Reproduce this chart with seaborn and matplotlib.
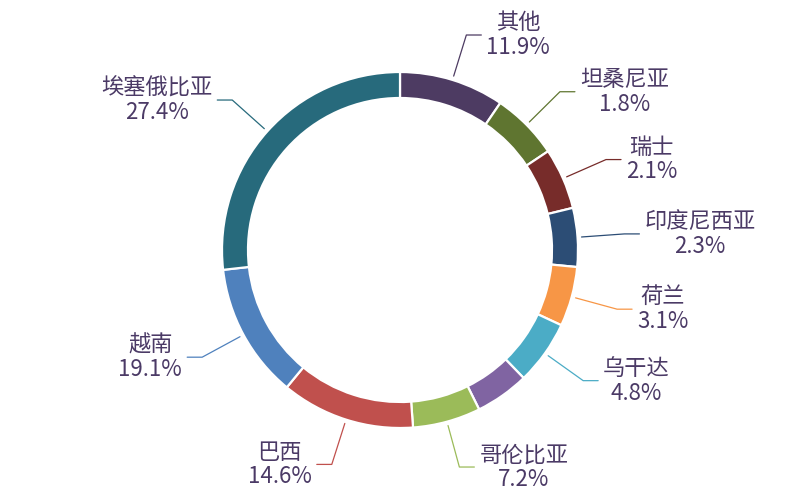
import numpy as np
import matplotlib
matplotlib.use("Agg")
import matplotlib.pyplot as plt
import seaborn as sns

# slices, clockwise from 12 o'clock
countries = ["其他", "坦桑尼亚", "瑞士", "印度尼西亚", "荷兰", "乌干达", "",
             "哥伦比亚", "巴西", "越南", "埃塞俄比亚"]
# angular size of each slice (degrees)
slice_sizes = [34.3, 22.0, 20.0, 19.2, 19.5, 21.0, 17.6, 22.2, 43.7, 44.1, 96.4]
# percentages printed on the labels
pct_labels = [11.9, 1.8, 2.1, 2.3, 3.1, 4.8, None, 7.2, 14.6, 19.1, 27.4]
colors = ["#4D3B62", "#5F7530", "#772C2A", "#2C4D75", "#F79646", "#4BACC6",
          "#8064A2", "#9BBB59", "#C0504D", "#4F81BD", "#276A7C"]

sns.set_theme(style="white")
plt.rcParams["font.family"] = ["Noto Sans CJK SC", "DejaVu Sans"]

fig = plt.figure(figsize=(8, 5), dpi=100)
ax = fig.add_axes([0, 0, 1, 1])
ax.set_aspect("equal")
ax.axis("off")

cx, cy, R, ring = 400, 250, 178, 26
ax.pie(slice_sizes, colors=sns.color_palette(colors), center=(cx, cy), radius=R,
       startangle=90, counterclock=False,
       wedgeprops=dict(width=ring, edgecolor="white", linewidth=1.6))
ax.set_xlim(0, 800)
ax.set_ylim(0, 500)

text_color = "#4B3A66"
start = 0.0
for name, size, pct, col in zip(countries, slice_sizes, pct_labels, colors):
    mid = np.radians(start + size / 2)
    start += size
    if pct is None:
        continue
    sx, sy = np.sin(mid), np.cos(mid)
    p0 = (cx + (R + 4) * sx, cy + (R + 4) * sy)
    p1 = (cx + 225 * sx, cy + 225 * sy)
    side = 1 if sx >= 0 else -1
    p2 = (p1[0] + side * 15, p1[1])
    ax.plot([p0[0], p1[0], p2[0]], [p0[1], p1[1], p2[1]], color=col, lw=0.9)
    ax.text(p2[0] + side * 5, p2[1], f"{name}\n{pct}%",
            ha="left" if side > 0 else "right", va="center",
            multialignment="center", fontsize=16, color=text_color,
            linespacing=1.1)

fig.savefig("out.png", dpi=100, facecolor="white")
